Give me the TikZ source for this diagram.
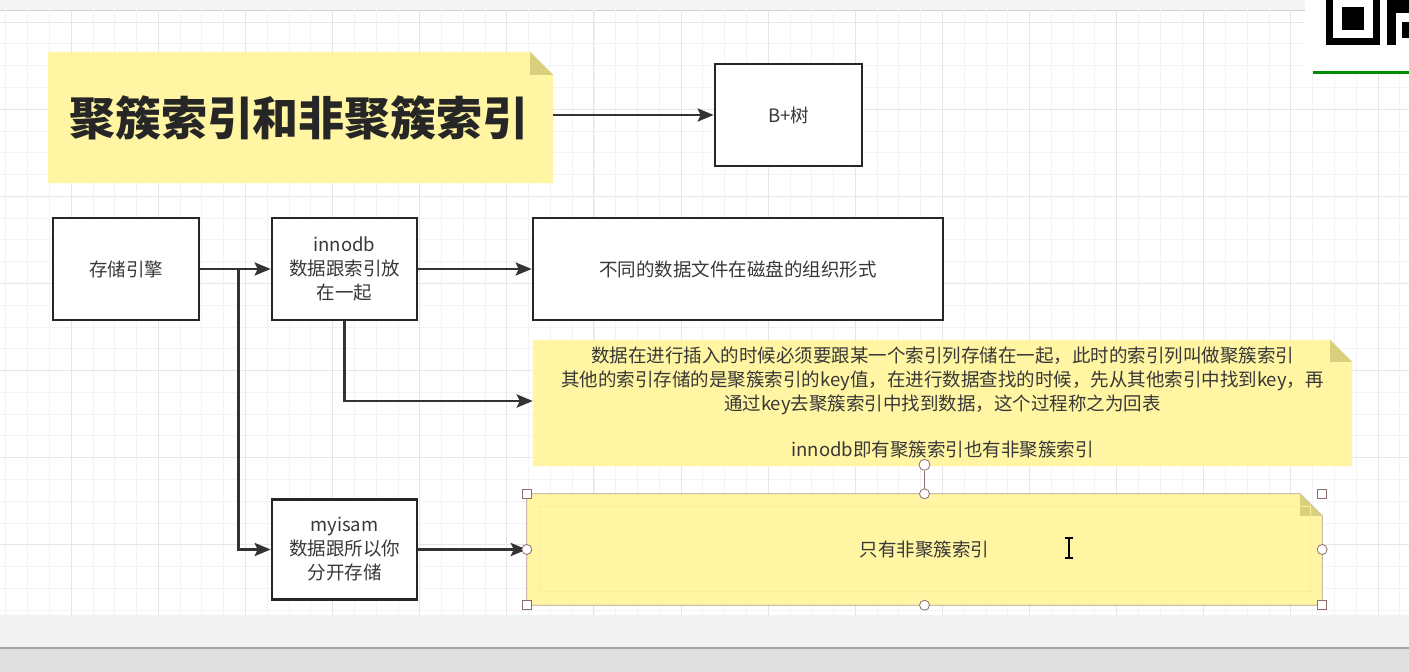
\documentclass[tikz,border=0pt]{standalone}
\usepackage{fontspec}
\setmainfont{Noto Sans CJK SC}
\usetikzlibrary{arrows.meta,calc}
\definecolor{txt}{HTML}{383838}
\definecolor{notey}{HTML}{FFF5A3}
\definecolor{foldy}{HTML}{D8D07E}
\definecolor{selb}{HTML}{B89A90}
\definecolor{handle}{HTML}{8C6E6E}
\definecolor{minorg}{HTML}{F3F3F5}
\definecolor{majorg}{HTML}{E6E6E8}
\tikzset{
  box/.style={draw=black!85, line width=2.6pt, fill=white, align=center, text=txt,
    font=\fontsize{18.5}{24}\selectfont, inner sep=0pt},
  notetext/.style={align=center, text=txt, font=\fontsize{18.5}{24}\selectfont, inner sep=0pt},
  arr/.style={draw=black!80, line width=2.8pt, -{Stealth[length=16pt,width=13pt,inset=3pt]}},
  minorgrid/.style={draw=minorg, line width=0.8pt},
  majorgrid/.style={draw=majorg, line width=1pt},
  sq/.style={draw=handle, fill=white, line width=0.8pt},
}
\begin{document}
\begin{tikzpicture}[x=1pt,y=-1pt]
\useasboundingbox (0,0) rectangle (1409,672);
% background
\fill[white] (0,0) rectangle (1409,615);
\fill[black!4] (0,0) rectangle (1409,10);
\draw[black!18, line width=0.8pt] (0,10) -- (1409,10);
\begin{scope}
\clip (0,10.5) rectangle (1409,615);
\foreach \i in {-4,...,62} \draw[minorgrid] ({71.2+21.78*\i},10) -- ({71.2+21.78*\i},615);
\foreach \j in {-1,...,28} \draw[minorgrid] (0,{22+21.78*\j}) -- (1409,{22+21.78*\j});
\foreach \i in {-1,...,15} \draw[majorgrid] ({71.2+87.12*\i},10) -- ({71.2+87.12*\i},615);
\foreach \j in {0,...,7} \draw[majorgrid] (0,{22+87.12*\j}) -- (1409,{22+87.12*\j});
\end{scope}
\fill[black!5] (0,615) rectangle (1409,648);
\fill[black!12] (0,648) rectangle (1409,672);
\draw[black!35, line width=1.5pt] (0,648) -- (1409,648);
% QR fragment and green line
\fill[white] (1305,0) rectangle (1409,70);
\fill[black] (1326,-8) rectangle (1380,45);
\fill[white] (1333,-1) rectangle (1373,38);
\fill[black] (1342,7) rectangle (1364,30);
\fill[black] (1387,0) rectangle (1409,13);
\fill[black] (1387,13) rectangle (1396,45);
\fill[black] (1402,22) rectangle (1409,38);
\draw[green!55!black, line width=3pt] (1313,72) -- (1409,72);

% title note
\node[inner sep=0pt, minimum width=505pt, minimum height=131pt] (title) at (300.5,117.5) {};
\fill[notey] (title.north west) -- ($(title.north east)+(-23,0)$) -- ($(title.north east)+(0,23)$) -- (title.south east) -- (title.south west) -- cycle;
\fill[foldy] ($(title.north east)+(-23,0)$) -- ($(title.north east)+(-23,23)$) -- ($(title.north east)+(0,23)$) -- cycle;
\node[font=\fontsize{46}{50}\selectfont\bfseries, text=black!85] at (299,118) {聚簇索引和非聚簇索引};

% boxes
\node[box, minimum width=147pt, minimum height=102pt] (bplus) at (788.5,115) {B+树};
\node[box, minimum width=146pt, minimum height=102pt] (storage) at (126,269) {存储引擎};
\node[box, minimum width=145pt, minimum height=102pt] (innodb) at (344.5,269) {innodb\\数据跟索引放\\在一起};
\node[box, minimum width=410pt, minimum height=102pt] (disk) at (738,269) {不同的数据文件在磁盘的组织形式};
\node[box, minimum width=145pt, minimum height=100pt] (myisam) at (344.5,549.5) {myisam\\数据跟所以你\\分开存储};

% note 2
\node[inner sep=0pt, minimum width=819pt, minimum height=126pt] (note2) at (942.5,403) {};
\fill[notey] (note2.north west) -- ($(note2.north east)+(-22,0)$) -- ($(note2.north east)+(0,22)$) -- (note2.south east) -- (note2.south west) -- cycle;
\fill[foldy] ($(note2.north east)+(-22,0)$) -- ($(note2.north east)+(-22,22)$) -- ($(note2.north east)+(0,22)$) -- cycle;
\node[notetext] at (942.5,403) {数据在进行插入的时候必须要跟某一个索引列存储在一起，此时的索引列叫做聚簇索引\\其他的索引存储的是聚簇索引的key值，在进行数据查找的时候，先从其他索引中找到key，再\\通过key去聚簇索引中找到数据，这个过程称之为回表\\[22pt]innodb即有聚簇索引也有非聚簇索引};

% note 3 (selected)
\node[inner sep=0pt, minimum width=795pt, minimum height=111pt] (note3) at (924.5,549.5) {};
\filldraw[fill=notey, draw=selb, line width=0.8pt] (note3.north west) -- ($(note3.north east)+(-22,0)$) -- ($(note3.north east)+(0,22)$) -- (note3.south east) -- (note3.south west) -- cycle;
\fill[foldy] ($(note3.north east)+(-22,0)$) -- ($(note3.north east)+(-22,22)$) -- ($(note3.north east)+(0,22)$) -- cycle;
\draw[draw=yellow!70!orange!40, line width=1pt] ($(note3.north west)+(13,13)$) rectangle ($(note3.south east)+(-12,-14)$);
\node[notetext] at (924.5,550) {只有非聚簇索引};
% I-beam cursor
\draw[black, line width=1.4pt] (1069,538) -- (1069,558) (1065,538) -- (1073,538) (1065,558) -- (1073,558);

% connectors
\coordinate (split) at ($(storage.east)+(38,0)$);
\draw[arr] (title.east |- bplus.west) -- (bplus.west);
\draw[arr] (storage.east) -- (innodb.west);
\draw[arr] (split) |- (myisam.west);
\draw[arr] (innodb.east) -- (disk.west);
\draw[arr] (innodb.south) |- ($(note2.west)+(0,-2)$);
\draw[arr] (myisam.east) -- (note3.west);

% selection handles
\draw[handle, line width=1.2pt] (note3.north) -- ++(0,-23);
\draw[sq] ($(note3.north)+(0,-29)$) circle (5.5pt);
\foreach \a in {north west, north east, south west, south east}
  \draw[sq] ($(note3.\a)+(-4.5,-4.5)$) rectangle ($(note3.\a)+(4.5,4.5)$);
\foreach \a in {north, south, west, east}
  \draw[sq] (note3.\a) circle (5pt);
\end{tikzpicture}
\end{document}
